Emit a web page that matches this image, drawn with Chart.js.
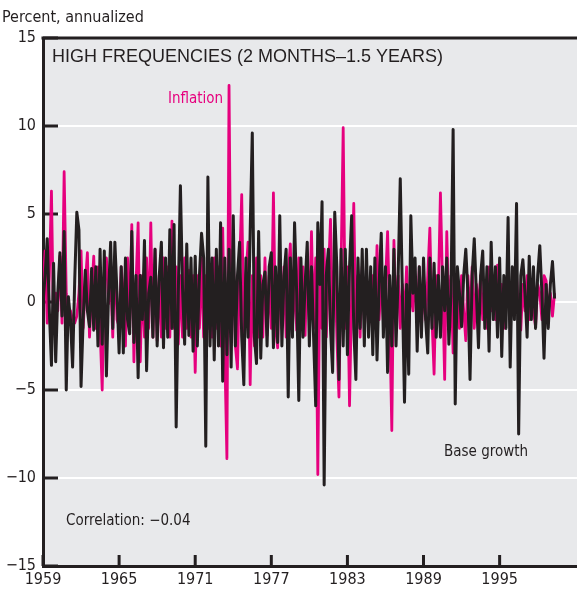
<!DOCTYPE html>
<html><head><meta charset="utf-8">
<script src="https://cdn.jsdelivr.net/npm/chart.js@4"></script>
<style>html,body{margin:0;padding:0;background:#fff;}#wrap{width:577px;height:593px;position:relative}</style>
</head><body><div id="wrap"><canvas id="c" width="577" height="593"></canvas></div>
<script>
// ---- data (two-monthly readings, 1959 onward) ----
const startYear = 1959;
const periodsPerYear = 6;
const xTickYears = [1959, 1965, 1971, 1977, 1983, 1989, 1995];
const yTickValues = [-15, -10, -5, 0, 5, 10, 15];
const inflation = [
 1.0, 2.9,-1.2, 1.5, 6.3,-1.5, 0.5,-0.5, 2.6,-1.2, 7.4, 0.5,-0.7,-0.5,-1.0,-1.2,-0.8, 0.5, 2.9,-1.5,
 1.0, 2.8,-2.0, 0.5, 2.6,-1.5, 2.0,-1.5,-5.0, 1.0, 2.5,-0.1, 1.5,-2.0, 2.5,-1.0,-1.4, 2.0, 0.5,-2.5,
 2.5,-1.5, 4.4,-3.4, 1.0, 4.5,-3.4, 1.5,-2.0, 2.5,-1.5, 4.5,-2.0, 3.0,-2.2, 1.5,-2.0, 2.5,-1.5, 2.0,
-2.0, 4.6,-1.5, 2.0,-2.4, 1.5,-2.0, 2.5,-1.5, 1.8,-2.0, 1.5,-4.0, 1.5,-1.5, 2.5,-2.0, 1.5,-1.5, 2.0,
-2.0, 2.5,-1.5, 2.0,-2.5, 4.2,-3.0,-8.9,12.3,-2.0, 3.0,-2.5,-3.8, 2.0, 6.1,-2.0, 1.5, 3.4,-4.7, 1.5,
-2.5, 2.5,-2.0, 1.5,-2.0, 2.5,-1.9, 1.5,-1.5, 6.2,-1.5,-2.6, 2.5,-1.5, 2.0,-2.0, 1.5, 3.3,-1.5, 1.5,
-1.6, 2.5,-1.5, 2.0,-1.9, 2.5,-1.0, 4.0,-1.5, 2.5,-9.8, 2.5,-1.5, 3.0,-2.0, 1.5, 4.7,-1.5, 2.5,-2.0,
-5.4, 2.0, 9.9,-1.5, 2.0,-5.9, 0.5, 5.6,-1.5, 1.5,-2.0, 2.0,-1.0, 1.5,-1.5, 1.0, 1.5,-1.5, 3.2,-1.0,
 1.5,-1.0, 1.0, 4.0,-1.0,-7.3, 3.5,-1.0, 1.5,-1.5, 1.0,-1.0, 2.0,-1.5, 1.0,-0.5, 1.5,-1.0, 2.0,-1.5,
 1.0,-1.0, 1.5, 4.2,-1.0,-4.1, 1.5, 0.5, 6.2, 1.0,-4.4, 4.0,-1.0, 1.5,-2.9, 1.0, 0.5,-1.5, 1.5,-0.5,
-2.2, 1.5,-1.0, 2.0,-1.5, 1.0,-0.5, 1.5,-1.0, 1.0,-1.5, 2.0,-0.5, 1.0,-1.0, 2.1,-0.5, 1.0,-1.5, 0.5,
 1.5,-1.0, 1.0,-0.5, 1.5,-1.0,-1.6, 1.0,-0.5, 1.5,-1.0, 1.0,-0.5,-1.4, 1.0, 0.5,-1.0, 1.5, 1.2,-0.5,
 0.5,-0.8, 0.5
];
const baseGrowth = [
 0.0, 1.5, 3.6,-0.5,-3.6, 2.2,-3.4, 0.5, 2.8,-0.8, 4.0,-5.0, 0.3,-1.0,-3.7, 1.2, 5.1, 4.1,-4.8,-1.0,
 1.8,-0.5,-1.4, 1.9,-1.6, 2.0,-2.5, 3.0,-2.4, 2.9,-4.2, 0.5, 3.4,-1.5, 3.4, 0.5,-2.9, 2.0,-2.9, 2.5,
-1.0,-1.8, 4.0,-2.3, 1.5,-4.3, 1.5,-1.0, 3.5,-3.9, 0.5, 1.4,-2.0, 3.0,-2.5, 1.5, 3.4,-2.6, 2.5,-2.0,
 4.1,-1.5, 4.4,-7.1, 0.5, 6.6, 0.8,-2.4, 3.3,-1.9, 2.5,-2.8, 2.6,-2.5, 1.5, 3.9, 2.5,-8.2, 7.1,-2.5,
 2.5,-3.3, 3.0,-2.5, 4.5,-4.5, 2.5,-3.0, 3.0,-3.7, 4.9,-2.5, 1.5, 3.4,-2.0,-4.7, 2.5,-2.0, 4.0, 9.6,
-2.0,-3.5, 4.0,-3.2, 1.0, 1.7,-2.5, 2.0, 2.8,-2.6, 2.0,-2.3, 4.9,-2.5, 1.5, 3.0,-5.4, 2.5,-2.0, 4.5,
 0.5,-5.6, 2.5,-2.0, 1.0, 3.4,-2.5, 2.0,-2.0,-5.9, 4.5, 1.0, 5.7,-10.4, 1.5, 3.0,-1.5,-4.0, 5.1, 2.0,
-4.4, 3.0,-2.5, 3.0,-3.0, 2.0, 4.9,-1.5,-4.4, 2.5,-1.5, 3.0,-2.5, 3.0,-2.0, 2.0,-3.0, 2.5,-3.3, 1.0,
 3.9,-2.0, 2.0,-4.0, 1.5,-2.5, 3.0,-2.5, 1.5, 7.0, 0.5,-5.7, 1.0,-4.1, 4.9, 0.5, 2.5,-2.8, 2.0,-2.0,
 2.5,-1.0,-2.9, 2.5,-1.5, 2.2,-2.0, 1.5,-2.0, 2.0,-0.5, 2.5,-2.4, 0.5, 9.8,-5.8, 2.0, 0.5,-1.4, 1.5,
 3.0, 0.5,-4.4, 1.5, 3.6, 0.5,-2.6, 1.5, 2.9,-1.5, 2.0,-2.8, 3.4,-1.0, 2.0,-2.0, 2.5,-3.1, 1.5,-1.5,
 4.8,-3.7, 2.0,-1.0, 5.6,-7.5, 1.5, 2.4, 0.5,-2.0, 2.6,-1.0, 2.0,-1.5, 1.5, 3.2, 0.5,-3.2, 1.0,-1.5,
 1.0, 2.3, 0.2
];

// ---- styling ----
const INK = '#231f20';
const MAGENTA = '#e6007e';
const PANEL = '#e8e9eb';
const NARROW = '"Liberation Sans Narrow", "DejaVu Sans Condensed", sans-serif';
const WIDE = '"Liberation Sans", Arial, sans-serif';

const toPoints = arr => arr.map((v, i) => ({ x: startYear + i / periodsPerYear, y: v }));
const fmtNum = v => (v < 0 ? '\u2212' + Math.abs(v) : String(v));

const deco = {
  id: 'deco',
  beforeDraw(chart) {
    const { ctx, chartArea: a } = chart;
    ctx.save();
    ctx.fillStyle = PANEL;
    ctx.fillRect(a.left, a.top, a.right - a.left, a.bottom - a.top);
    ctx.restore();
  },
  beforeDatasetsDraw(chart) {
    const { ctx, chartArea: a, scales } = chart;
    ctx.save();
    ctx.strokeStyle = INK;
    ctx.lineWidth = 3;
    yTickValues.forEach(v => {
      const y = scales.y.getPixelForValue(v);
      ctx.beginPath(); ctx.moveTo(a.left, y); ctx.lineTo(a.left + 15, y); ctx.stroke();
    });
    xTickYears.forEach(v => {
      const x = scales.x.getPixelForValue(v);
      ctx.beginPath(); ctx.moveTo(x, a.bottom); ctx.lineTo(x, a.bottom - 11); ctx.stroke();
    });
    ctx.restore();
  },
  afterDraw(chart) {
    const { ctx, chartArea: a } = chart;
    ctx.save();
    ctx.strokeStyle = INK;
    ctx.lineWidth = 3;
    ctx.beginPath(); ctx.moveTo(a.left - 1.5, a.top); ctx.lineTo(a.right, a.top); ctx.stroke();
    ctx.textBaseline = 'alphabetic';
    ctx.textAlign = 'left';
    ctx.fillStyle = INK;
    ctx.font = '16px ' + NARROW;
    ctx.fillText('Percent, annualized', 2, 22);
    ctx.font = '18px ' + WIDE;
    ctx.fillText('HIGH FREQUENCIES (2 MONTHS\u20131.5 YEARS)', 52, 62);
    ctx.font = '15px ' + NARROW;
    ctx.fillText('Base growth', 444, 456);
    ctx.fillText('Correlation: \u22120.04', 66, 525);
    ctx.fillStyle = MAGENTA;
    ctx.fillText('Inflation', 168, 103);
    ctx.restore();
  }
};

new Chart(document.getElementById('c'), {
  type: 'line',
  data: {
    datasets: [
      { label: 'Base growth', data: toPoints(baseGrowth), borderColor: INK, borderWidth: 3,
        pointRadius: 0, tension: 0, borderJoinStyle: 'round', order: 0 },
      { label: 'Inflation', data: toPoints(inflation), borderColor: MAGENTA, borderWidth: 2.8,
        pointRadius: 0, tension: 0, borderJoinStyle: 'round', order: 1 }
    ]
  },
  options: {
    responsive: false,
    animation: false,
    devicePixelRatio: 1,
    layout: { padding: { top: 38, right: 0, left: 0, bottom: 0 } },
    plugins: { legend: { display: false }, tooltip: { enabled: false } },
    scales: {
      x: {
        type: 'linear', min: 1959, max: 2001.1,
        afterBuildTicks: s => { s.ticks = xTickYears.map(v => ({ value: v })); },
        afterFit: s => { s.height = 27; },
        ticks: { callback: v => String(v), color: INK, font: { family: NARROW, size: 16 },
                 padding: 4, maxRotation: 0, autoSkip: false },
        grid: { display: false, drawTicks: false },
        border: { display: true, color: INK, width: 3 }
      },
      y: {
        min: -15, max: 15,
        afterBuildTicks: s => { s.ticks = yTickValues.map(v => ({ value: v })); },
        afterFit: s => { s.width = 43; },
        ticks: { callback: v => fmtNum(v), color: INK, font: { family: NARROW, size: 16 }, padding: 7 },
        grid: { color: c => (Math.abs(c.tick.value) === 15 ? 'rgba(0,0,0,0)' : '#ffffff'),
                lineWidth: 2, drawTicks: false },
        border: { display: true, color: INK, width: 3 }
      }
    }
  },
  plugins: [deco]
});
</script></body></html>
